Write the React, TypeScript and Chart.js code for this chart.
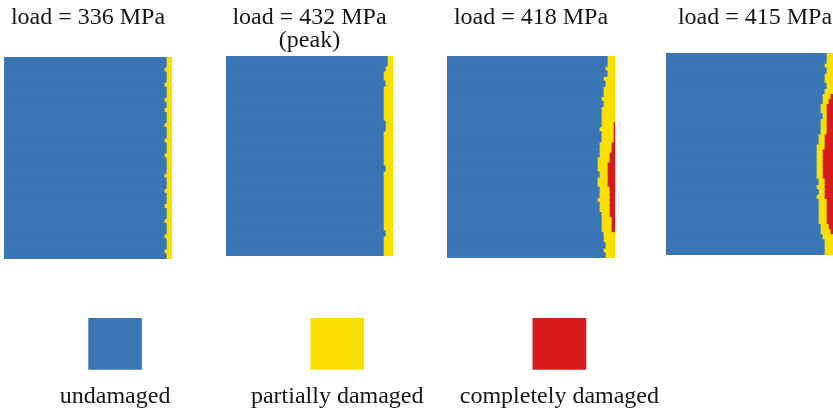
import React, { useEffect, useRef } from "react";
import { Chart, registerables } from "chart.js";

Chart.register(...registerables);

// ---- data ----
const COLS = 84; // elements across each specimen
const rowLabels = [
  "1", "2", "3", "4", "5", "6", "7", "8", "9", "10",
  "11", "12", "13", "14", "15", "16", "17", "18", "19", "20",
  "21", "22", "23", "24", "25", "26", "27", "28", "29", "30",
  "31", "32", "33", "34", "35", "36", "37", "38", "39", "40",
];

const title336 = ["load = 336 MPa"];
const title432 = ["load = 432 MPa", "(peak)"];
const title418 = ["load = 418 MPa"];
const title415 = ["load = 415 MPa"];

// number of partially / completely damaged elements per row (from right edge)
const partial336 = [3, 3, 4, 3, 3, 4, 3, 3, 4, 3, 4, 3, 3, 4, 3, 3, 4, 3, 3, 4, 3, 3, 3, 4, 3, 3, 4, 3, 3, 4, 3, 3, 4, 3, 3, 4, 3, 3, 4, 3];
const complete336 = [0, 0, 0, 0, 0, 0, 0, 0, 0, 0, 0, 0, 0, 0, 0, 0, 0, 0, 0, 0, 0, 0, 0, 0, 0, 0, 0, 0, 0, 0, 0, 0, 0, 0, 0, 0, 0, 0, 0, 0];

const partial432 = [3, 3, 4, 5, 5, 4, 5, 5, 5, 5, 5, 5, 5, 4, 4, 5, 5, 5, 5, 5, 5, 5, 4, 5, 5, 5, 5, 5, 5, 5, 5, 5, 5, 5, 5, 4, 5, 5, 5, 5];
const complete432 = [0, 0, 0, 0, 0, 0, 0, 0, 0, 0, 0, 0, 0, 0, 0, 0, 0, 0, 0, 0, 0, 0, 0, 0, 0, 0, 0, 0, 0, 0, 0, 0, 0, 0, 0, 0, 0, 0, 0, 0];

const partial418 = [4, 4, 5, 4, 6, 5, 6, 6, 7, 6, 7, 7, 7, 6, 7, 6, 6, 6, 6, 5, 6, 5, 5, 4, 5, 5, 5, 5, 6, 5, 5, 4, 5, 5, 5, 6, 6, 5, 6, 5];
const complete418 = [0, 0, 0, 0, 0, 0, 0, 0, 0, 0, 0, 0, 0, 1, 1, 1, 1, 2, 2, 3, 3, 4, 4, 4, 4, 4, 3, 3, 3, 3, 3, 3, 2, 2, 2, 0, 0, 0, 0, 0];

const partial415 = [4, 4, 5, 4, 5, 5, 4, 5, 4, 3, 3, 3, 2, 3, 3, 3, 3, 3, 4, 3, 3, 3, 3, 3, 3, 3, 4, 3, 4, 4, 4, 4, 4, 4, 4, 5, 6, 5, 5, 5];
const complete415 = [0, 0, 0, 0, 0, 0, 0, 0, 2, 3, 4, 4, 4, 4, 4, 4, 5, 5, 5, 6, 6, 6, 6, 6, 6, 5, 5, 5, 5, 4, 4, 4, 4, 4, 3, 2, 0, 0, 0, 0];

const legendLabels = ["undamaged", "partially damaged", "completely damaged"];
const legendValues = [1, 1, 1];

// ---- styles ----
const BLUE = "#3a75b4";
const YELLOW = "#f9e000";
const RED = "#d91a1c";
const TEXT = "#161616";
const FONT = "'Liberation Serif', 'Times New Roman', serif";
const FS = 24;
const LH = 0.96;

type PanelProps = {
  left: number;
  top: number;
  width: number;
  bottom: number;
  extra?: number; // blank canvas width to the right of the specimen (clipped by the page)
  title: string[];
  partial: number[];
  complete: number[];
};

function Panel({ left, top, width, bottom, extra = 0, title, partial, complete }: PanelProps) {
  const ref = useRef<HTMLCanvasElement>(null);
  const canvasWidth = width + extra;
  useEffect(() => {
    const padTop = 6.5;
    const padBottom = top - padTop - title.length * FS * LH;
    const undamaged = partial.map((p, i) => COLS - p - complete[i]);
    const chart = new Chart(ref.current!, {
      type: "bar",
      data: {
        labels: rowLabels,
        datasets: [
          { label: "undamaged", data: undamaged, backgroundColor: BLUE },
          { label: "partially damaged", data: partial, backgroundColor: YELLOW },
          { label: "completely damaged", data: complete, backgroundColor: RED },
        ],
      },
      options: {
        indexAxis: "y",
        responsive: false,
        animation: false,
        events: [],
        datasets: {
          bar: { barPercentage: 1, categoryPercentage: 1, borderWidth: 0, inflateAmount: 0.6 },
        },
        layout: { padding: 0 },
        scales: {
          x: { stacked: true, min: 0, max: (COLS * canvasWidth) / width, display: false },
          y: { stacked: true, display: false },
        },
        plugins: {
          legend: { display: false },
          tooltip: { enabled: false },
          title: {
            display: true,
            text: title,
            color: TEXT,
            font: { family: FONT, size: FS, lineHeight: LH, weight: "normal" },
            padding: { top: padTop, bottom: padBottom },
          },
        },
      },
    });
    return () => chart.destroy();
  }, []);
  return (
    <canvas
      ref={ref}
      width={canvasWidth}
      height={bottom}
      style={{ position: "absolute", left, top: 0, width: canvasWidth, height: bottom }}
    />
  );
}

function Legend() {
  const ref = useRef<HTMLCanvasElement>(null);
  useEffect(() => {
    const chart = new Chart(ref.current!, {
      type: "bar",
      data: {
        labels: legendLabels,
        datasets: [
          {
            data: legendValues,
            backgroundColor: [BLUE, YELLOW, RED],
            barThickness: 53,
            borderWidth: 0,
          },
        ],
      },
      options: {
        responsive: false,
        animation: false,
        events: [],
        layout: { padding: { top: 18, bottom: 8.5, left: 0, right: 0 } },
        scales: {
          x: {
            grid: { display: false, drawTicks: false },
            border: { display: false },
            ticks: {
              color: TEXT,
              font: { family: FONT, size: FS, lineHeight: LH },
              padding: 15,
              autoSkip: false,
              maxRotation: 0,
            },
          },
          y: { display: false, min: 0, max: 1 },
        },
        plugins: { legend: { display: false }, tooltip: { enabled: false } },
      },
    });
    return () => chart.destroy();
  }, []);
  return (
    <canvas
      ref={ref}
      width={670}
      height={130}
      style={{ position: "absolute", left: 4, top: 300, width: 670, height: 130 }}
    />
  );
}

export default function App() {
  return (
    <div
      style={{
        position: "fixed",
        left: 0,
        top: 0,
        width: 833,
        height: 415,
        overflow: "hidden",
        background: "#ffffff",
      }}
    >
      <Panel left={4} top={57} width={168} bottom={259} title={title336} partial={partial336} complete={complete336} />
      <Panel left={226} top={56} width={167} bottom={256} title={title432} partial={partial432} complete={complete432} />
      <Panel left={447} top={56} width={168} bottom={258} title={title418} partial={partial418} complete={complete418} />
      <Panel left={666} top={53} width={168} bottom={255} extra={10} title={title415} partial={partial415} complete={complete415} />
      <Legend />
    </div>
  );
}
